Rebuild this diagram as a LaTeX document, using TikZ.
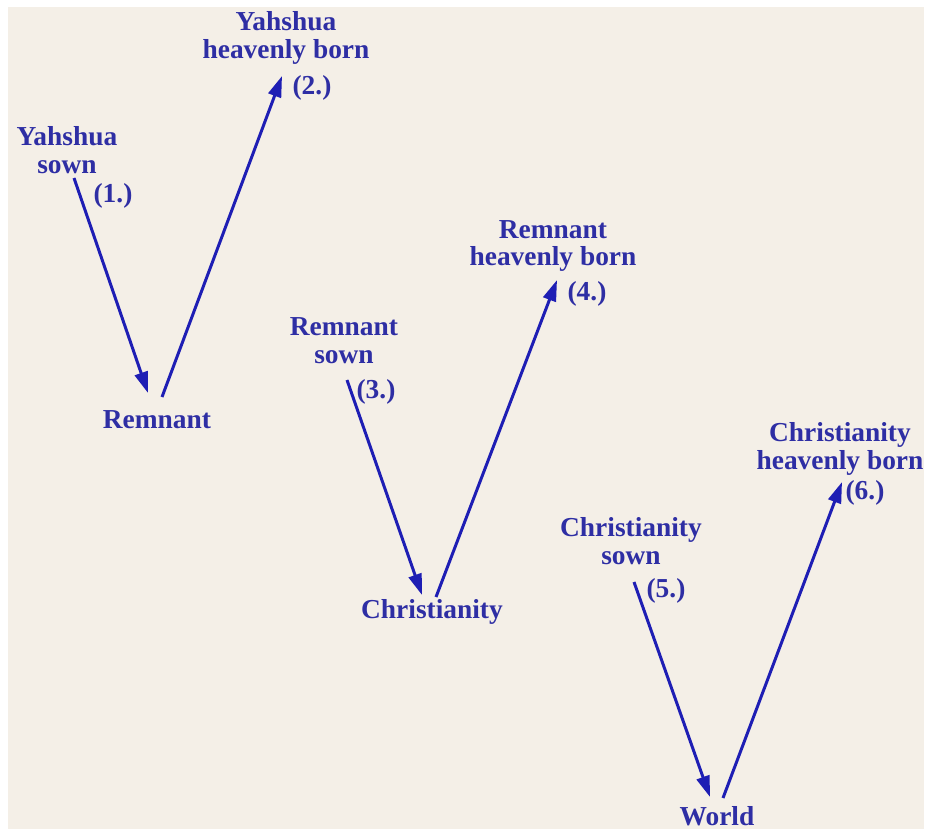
\documentclass[tikz,border=0pt]{standalone}
\usepackage{fontspec}
\setmainfont{Liberation Serif}
\usetikzlibrary{arrows.meta,positioning,calc}
\definecolor{paper}{HTML}{F4EFE7}
\definecolor{inkblue}{HTML}{2E2EA4}
\definecolor{arrblue}{HTML}{1E1EB4}

\begin{document}
\begin{tikzpicture}[x=0.02cm,y=-0.02cm,
  lbl/.style={font=\fontsize{15.6}{15.9}\selectfont\bfseries,text=inkblue,align=center,inner sep=0pt},
  arr/.style={arrblue,line width=1.7pt,-{Triangle[length=12pt,width=7.5pt]}}]
  \useasboundingbox (0,0) rectangle (926,829);
  \fill[white] (0,0) rectangle (926,829);
  \fill[paper] (8,7) rectangle (924,829);

  % first V
  \node[lbl] (ysown) at (67,150){Yahshua\\sown};
  \node[lbl] (n1) at (113,196){(1.)};
  \node[lbl] (remnant) at (157,420){Remnant};
  \node[lbl] (yborn) at (286,38){Yahshua\\heavenly born};
  \node[lbl] (n2) at (312,88){(2.)};
  \coordinate (s1) at (74,178);
  \coordinate (t1) at (148,393);
  \coordinate (s2) at (162,397);
  \coordinate (t2) at (282,76);
  \draw[arr] (s1)--(t1);
  \draw[arr] (s2)--(t2);

  % second V
  \node[lbl] (rsown) at (344,341){Remnant\\sown};
  \node[lbl] (n3) at (376,392){(3.)};
  \node[lbl] (christ) at (432,612){Christianity};
  \node[lbl] (rborn) at (553,246){Remnant\\heavenly born};
  \node[lbl] (n4) at (587,294){(4.)};
  \coordinate (s3) at (347,380);
  \coordinate (t3) at (422,595);
  \coordinate (s4) at (436,597);
  \coordinate (t4) at (557,280);
  \draw[arr] (s3)--(t3);
  \draw[arr] (s4)--(t4);

  % third V
  \node[lbl] (csown) at (631,541){Christianity\\sown};
  \node[lbl] (n5) at (666,591){(5.)};
  \node[lbl] (world) at (717,816){World};
  \node[lbl] (cborn) at (840,449){Christianity\\heavenly born};
  \node[lbl] (n6) at (865,493){(6.)};
  \coordinate (s5) at (634,582);
  \coordinate (t5) at (710,797);
  \coordinate (s6) at (723,798);
  \coordinate (t6) at (842,482);
  \draw[arr] (s5)--(t5);
  \draw[arr] (s6)--(t6);
\end{tikzpicture}
\end{document}
